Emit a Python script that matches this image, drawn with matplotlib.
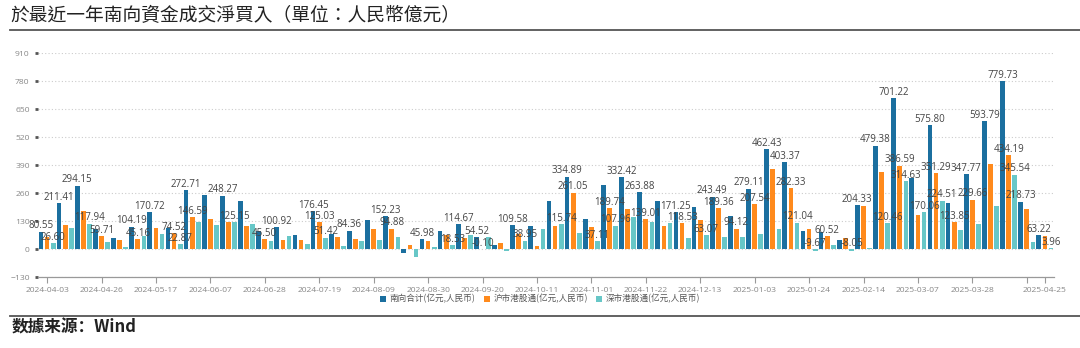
import matplotlib
matplotlib.use("Agg")
import matplotlib.pyplot as plt
from matplotlib.lines import Line2D
from matplotlib.patches import Patch
import numpy as np
import pandas as pd

plt.rcParams['font.family'] = ['Noto Sans CJK SC', 'DejaVu Sans']

# weekly categories (first week ends on a Wednesday)
dates = ['2024-04-03'] + list(pd.date_range('2024-04-12', periods=55, freq='7D').strftime('%Y-%m-%d'))

total = [80.55, 211.41, 294.15, 91.5, 50.2, 104.19, 170.72, 97.39, 272.71, 249.0,
         248.27, 221.0, 83.5, 100.92, 67.0, 176.45, 68.0, 84.36, 136.0, 152.23,
         -19.0, 45.98, 82.6, 114.67, 54.52, 19.0, 109.58, 107.0, 221.0, 334.89,
         137.7, 297.7, 332.42, 263.88, 224.0, 171.25, 196.6, 243.49, 151.7, 279.11,
         462.43, 403.37, 83.6, 77.5, 43.0, 204.33, 479.38, 701.22, 329.56, 575.80,
         212.35, 347.77, 593.79, 779.73, 218.73, 63.22]
sh = [53.95, 113.5, 176.21, 59.71, 43.1, 45.16, 99.5, 74.52, 146.59, 138.0,
      123.12, 105.0, 45.50, 40.5, 42.0, 125.03, 54.0, 46.5, 92.0, 94.88,
      19.0, 39.0, 64.07, 49.5, -0.10, 28.0, 70.63, 12.0, 105.26, 261.05,
      100.59, 189.74, 184.5, 139.01, 105.0, 118.53, 133.53, 189.36, 94.12, 207.54,
      370.0, 282.33, 93.27, 60.52, 51.05, 200.5, 358.92, 386.59, 159.5, 351.29,
      123.85, 229.66, 394.0, 434.19, 188.0, 59.26]
sz = [26.60, 97.91, 117.94, 31.79, 7.1, 59.03, 71.22, 22.87, 126.12, 111.0,
      125.15, 116.0, 38.0, 60.42, 25.0, 51.42, 14.0, 37.86, 44.0, 57.35,
      -38.0, 6.98, 18.53, 65.17, 54.62, -9.0, 38.95, 95.0, 115.74, 73.84,
      37.11, 107.96, 147.92, 124.87, 119.0, 52.72, 63.07, 54.13, 57.58, 71.57,
      92.43, 121.04, -9.67, 16.98, -8.05, 3.83, 120.46, 314.63, 170.06, 224.51,
      88.5, 118.11, 199.79, 345.54, 30.73, 3.96]

# which bars carry a value label in the original
total_lbl = [0, 1, 2, 5, 6, 8, 10, 13, 15, 17, 19, 21, 23, 24, 26, 29, 32, 33, 35, 37,
             39, 40, 41, 45, 46, 47, 49, 51, 52, 53, 54, 55]
sh_lbl = [3, 5, 7, 8, 12, 15, 19, 24, 29, 31, 33, 35, 37, 38, 39, 41, 43, 47, 49, 50, 51, 53]
sz_lbl = [0, 2, 7, 10, 15, 22, 26, 28, 30, 31, 36, 41, 42, 44, 46, 47, 48, 49, 53, 55]

names = ['南向合计(亿元,人民币)', '沪市港股通(亿元,人民币)', '深市港股通(亿元,人民币)']
colors = ['#1b6f9f', '#ff8a1c', '#67c7c7']

fig = plt.figure(figsize=(10.8, 3.48), dpi=100)
ax = fig.add_axes([38 / 1080, 1 - 277 / 348, (1054 - 38) / 1080, (277 - 53) / 348])

x = np.arange(len(dates))
w = 0.26
off = 0.34
series = [(total, total_lbl), (sh, sh_lbl), (sz, sz_lbl)]
for k, (vals, lbl) in enumerate(series):
    xs = x + (k - 1) * off
    ax.bar(xs, vals, width=w, color=colors[k], zorder=3)
    for i in lbl:
        v = vals[i]
        ax.text(xs[i], max(v, 0) + 2, f'{v:.2f}', ha='center', va='bottom',
                fontsize=7, color='#444444', family=['Open Sans', 'DejaVu Sans'], zorder=4)

ax.set_xlim(-0.5, len(dates) - 0.5)
ax.set_ylim(-130, 910)
ax.set_yticks(np.arange(-130, 911, 130))
ax.yaxis.grid(True, linestyle=(0, (1, 2)), color='#cccccc', linewidth=0.8, zorder=0)

tick_pos = list(range(0, len(dates), 3)) + [len(dates) - 1]
tick_lab = [dates[i] if i != 54 else '' for i in tick_pos]
ax.set_xticks(tick_pos)
ax.set_xticklabels(tick_lab)

for s in ['top', 'right', 'left']:
    ax.spines[s].set_visible(False)
ax.spines['bottom'].set_color('#999999')
ax.spines['bottom'].set_linewidth(0.9)
ax.tick_params(axis='x', length=4, color='#999999', labelsize=6.1, labelcolor='#888888', pad=3)
ax.tick_params(axis='y', length=2, width=2, color='#555555', labelsize=6.1, labelcolor='#888888', pad=4)
for t in ax.get_xticklabels() + ax.get_yticklabels():
    t.set_family(['Open Sans', 'DejaVu Sans'])

handles = [Patch(facecolor=c, edgecolor='none') for c in colors]
fig.legend(handles, names, loc='center', bbox_to_anchor=(0.5, 1 - 299 / 348), ncol=3,
           frameon=False, fontsize=6.2, handlelength=0.7, handleheight=0.7,
           handletextpad=0.4, columnspacing=1.0, labelcolor='#555555')

fig.text(10 / 1080, 1 - 16 / 348, '於最近一年南向資金成交淨買入（單位：人民幣億元）',
         fontsize=13.5, va='center', ha='left', color='#222222',
         family=['Noto Sans CJK TC', 'DejaVu Sans'])
fig.add_artist(Line2D([10 / 1080, 1], [1 - 30 / 348] * 2, transform=fig.transFigure,
                      color='#555555', linewidth=1.3))
fig.add_artist(Line2D([10 / 1080, 1], [1 - 316 / 348] * 2, transform=fig.transFigure,
                      color='#555555', linewidth=1.3))
fig.text(12 / 1080, 1 - 327 / 348, '数據来源：Wind', fontsize=12, va='center', ha='left',
         color='#222222', style='italic', weight='bold',
         family=['Noto Sans CJK SC', 'DejaVu Sans'])

fig.savefig('out.png', dpi=100, facecolor='white')
